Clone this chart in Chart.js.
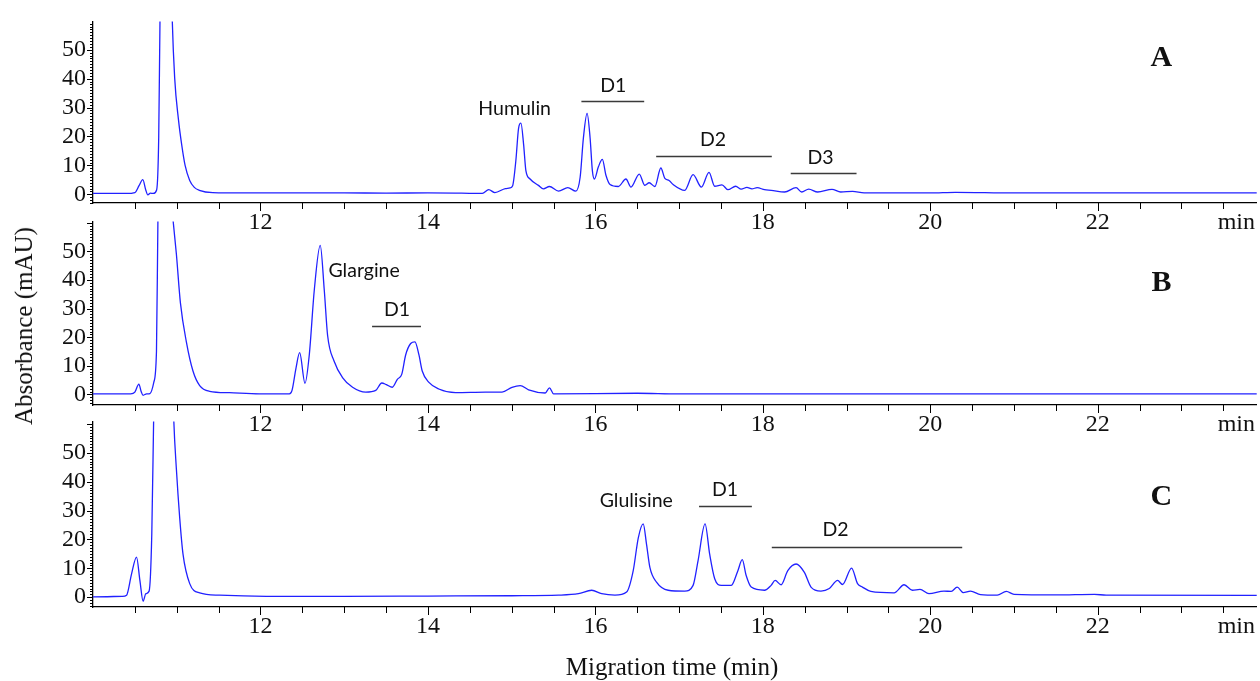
<!DOCTYPE html>
<html>
<head>
<meta charset="utf-8">
<script src="https://cdn.jsdelivr.net/npm/chart.js@4.4.1/dist/chart.umd.min.js"></script>
<style>
    body { margin: 0; background: #fff; width: 1260px; height: 681px; overflow: hidden; position: relative; font-family: 'Liberation Serif', serif; color: #111; }
    canvas { position: absolute; left: 0; }
    .ytitle { position: absolute; left: 24px; top: 326px; transform: translate(-50%, -50%) rotate(-90deg); font-size: 25px; white-space: nowrap; }
    .xtitle { position: absolute; left: 672px; top: 667px; transform: translate(-50%, -50%); font-size: 25px; white-space: nowrap; }
</style>
</head>
<body>
<canvas id="panelA" width="1260" height="240" style="top:0px"></canvas>
<canvas id="panelB" width="1260" height="240" style="top:200px"></canvas>
<canvas id="panelC" width="1260" height="281" style="top:400px"></canvas>
<div class="ytitle">Absorbance (mAU)</div>
<div class="xtitle">Migration time (min)</div>
<script>
// tick labels
const xTickLabels = [12, 14, 16, 18, 20, 22];
const yTickLabels = [0, 10, 20, 30, 40, 50];

// A: Humulin
const timesA = [10.00, 10.40, 10.50, 10.55, 10.595, 10.63, 10.655, 10.685, 10.72, 10.76, 10.785, 10.80, 10.83, 10.87, 10.92, 10.945, 10.976, 11.02, 11.06, 11.10, 11.155, 11.21, 11.27, 11.43, 11.8, 12.0, 13.0, 13.5, 14.0, 14.4,
    14.65, 14.726, 14.80, 14.925, 14.98, 15.012, 15.05, 15.083, 15.111, 15.143, 15.17, 15.22, 15.32, 15.38, 15.451, 15.56, 15.671, 15.766, 15.818, 15.857, 15.901, 15.937, 15.964, 15.988,
    16.036, 16.083, 16.127, 16.175, 16.274, 16.365, 16.425, 16.524, 16.591, 16.643, 16.71, 16.782, 16.83, 16.88, 16.929, 17.067, 17.167, 17.266, 17.357, 17.425, 17.512, 17.583,
    17.675, 17.742, 17.81, 17.87, 17.932, 18.02, 18.10, 18.26, 18.397, 18.464, 18.548, 18.655, 18.826, 18.93, 19.072, 19.21, 20.0, 20.3, 21.0, 23.9];
const absA = [0.3, 0.3, 0.6, 3.0, 5.1, 1.5, -0.2, 0.4, 0.3, 1.5, 20, 60, 110, 130, 100, 62, 40, 26, 17, 10, 4.8, 2.4, 1.4, 0.6, 0.5, 0.5, 0.5, 0.4, 0.5, 0.4,
    0.3, 1.6, 0.6, 2.0, 2.2, 3.0, 11.6, 22.9, 24.6, 17.2, 8.2, 5.3, 3.1, 1.9, 2.7, 1.1, 2.3, 1.1, 5.9, 19.5, 28.0, 19.5, 8.2, 5.3,
    9.5, 12.1, 6.5, 3.4, 2.7, 5.3, 2.5, 7.0, 3.1, 4.0, 2.7, 9.1, 5.5, 4.8, 3.4, 1.4, 6.8, 2.5, 7.6, 2.8, 3.3, 1.6,
    2.8, 1.8, 2.4, 1.9, 2.3, 1.6, 1.4, 0.8, 2.3, 0.8, 1.8, 0.8, 1.7, 0.8, 1.0, 0.5, 0.5, 0.7, 0.5, 0.5];

// B: Glargine
const timesB = [10.00, 10.45, 10.50, 10.548, 10.575, 10.598, 10.64, 10.68, 10.726, 10.758, 10.775, 10.80, 10.85, 10.90, 10.93, 10.956, 10.996, 11.044, 11.115, 11.194, 11.274, 11.393, 11.63, 11.99,
    12.345, 12.377, 12.425, 12.468, 12.532, 12.583, 12.643, 12.714, 12.762, 12.802, 12.88, 12.98, 13.10, 13.258, 13.377, 13.449, 13.504, 13.575, 13.635, 13.687, 13.734, 13.794, 13.845,
    13.893, 13.932, 14.012, 14.13, 14.33, 14.687, 14.885, 15.004, 15.103, 15.202, 15.401, 15.452, 15.50, 16.5, 17.0, 23.9];
const absB = [0.2, 0.2, 0.8, 3.6, 1.0, -0.3, 0.2, 0.3, 4.2, 15, 60, 110, 120, 85, 70, 61, 49, 32, 18.4, 8.2, 3.1, 1.1, 0.6, 0.2,
    0.2, 1.4, 9.3, 14.6, 3.9, 13.8, 36.5, 52.1, 36.5, 20.6, 11.6, 5.9, 2.5, 0.8, 1.4, 4.0, 3.4, 2.5, 5.3, 7.0, 13.8, 17.8, 18.4,
    13.8, 8.2, 4.2, 1.9, 0.6, 0.8, 0.8, 2.5, 3.1, 1.6, 0.5, 2.3, 0.2, 0.4, 0.2, 0.2];

// C: Glulisine
const timesC = [10.00, 10.35, 10.401, 10.46, 10.52, 10.56, 10.599, 10.631, 10.67, 10.702, 10.726, 10.76, 10.86, 10.93, 10.964, 10.996, 11.036, 11.075, 11.155, 11.274, 11.51, 12.07, 13.0, 14.0, 15.0,
    15.56, 15.798, 15.956, 16.075, 16.234, 16.373, 16.452, 16.512, 16.571, 16.611, 16.651, 16.73, 16.869, 17.067, 17.167, 17.226, 17.31, 17.365, 17.425, 17.504, 17.623, 17.702, 17.754,
    17.801, 17.861, 18.02, 18.099, 18.147, 18.218, 18.298, 18.397, 18.496, 18.575, 18.694, 18.794, 18.893, 18.952, 19.06, 19.131, 19.19, 19.29, 19.567, 19.687, 19.786, 19.877, 19.984,
    20.163, 20.25, 20.321, 20.393, 20.48, 20.6, 20.8, 20.908, 21.0, 21.5, 21.96, 22.1, 23.9];
const absC = [0.1, 0.3, 0.7, 8.0, 13.9, 5.8, -1.4, 1.2, 2.1, 21.7, 65, 120, 150, 100, 62, 44.3, 27.3, 14.9, 4.7, 1.5, 0.7, 0.3, 0.3, 0.4, 0.5,
    0.7, 1.2, 2.4, 1.2, 0.7, 1.8, 9.2, 20.5, 25.4, 18.3, 10.3, 5.2, 2.4, 2.1, 4.1, 12.6, 25.4, 14.9, 6.4, 4.1, 4.1, 9.2, 13.0,
    7.5, 3.5, 2.4, 4.1, 5.8, 4.3, 9.2, 11.5, 8.6, 3.5, 2.1, 3.0, 5.8, 4.4, 10.1, 4.7, 3.5, 2.0, 1.5, 4.3, 2.4, 2.7, 1.2,
    2.1, 2.0, 3.5, 1.6, 2.1, 0.9, 0.7, 2.0, 1.0, 0.8, 1.0, 0.7, 0.6];

// peak labels and bracket bars, in axis units
const labelsA = [{ text: 'Humulin', x: 15.036, y: 29.7 }, { text: 'D1', x: 16.214, y: 37.5 }, { text: 'D2', x: 17.405, y: 18.9 }, { text: 'D3', x: 18.69, y: 12.8 }];
const barsA = [{ x0: 15.833, x1: 16.583, y: 32.4 }, { x0: 16.726, x1: 18.107, y: 13.2 }, { x0: 18.333, x1: 19.119, y: 7.4 }];
const labelsB = [{ text: 'Glargine', x: 13.238, y: 43.2 }, { text: 'D1', x: 13.631, y: 29.6 }];
const barsB = [{ x0: 13.333, x1: 13.917, y: 23.8 }];
const labelsC = [{ text: 'Glulisine', x: 16.488, y: 33.3 }, { text: 'D1', x: 17.548, y: 37.1 }, { text: 'D2', x: 18.869, y: 23.5 }];
const barsC = [{ x0: 17.238, x1: 17.869, y: 31.6 }, { x0: 18.107, x1: 20.381, y: 17.3 }];

const X_MIN = 10, X_MAX = 23.9, MIN_LABEL_AT = 23.655;

const serif = "'Liberation Serif', 'Times New Roman', serif";

const tickMarks = {
    id: 'tickMarks',
    afterDraw(chart) {
        const { ctx } = chart;
        const x = chart.scales.x, y = chart.scales.y;
        ctx.save();
        ctx.strokeStyle = '#000';
        ctx.lineWidth = 1;
        ctx.beginPath();
        for (let v = Math.ceil(y.min); v <= y.max; v++) {
            const py = Math.round(y.getPixelForValue(v)) + 0.5;
            const len = v % 10 === 0 ? 6 : 3;
            ctx.moveTo(x.left - len, py);
            ctx.lineTo(x.left, py);
        }
        for (let t = X_MIN + 0.5; t <= X_MAX; t += 0.5) {
            const px = Math.round(x.getPixelForValue(t)) + 0.5;
            const len = t % 2 === 0 ? 8 : 6;
            ctx.moveTo(px, y.bottom);
            ctx.lineTo(px, y.bottom + len);
        }
        ctx.stroke();
        ctx.restore();
    }
};

const peakNotes = {
    id: 'peakNotes',
    afterDatasetsDraw(chart, args, opts) {
        const { ctx } = chart;
        const x = chart.scales.x, y = chart.scales.y;
        ctx.save();
        ctx.strokeStyle = '#3a3a3a';
        ctx.lineWidth = 1.6;
        opts.bars.forEach(b => {
            const py = Math.round(y.getPixelForValue(b.y)) + 0.5;
            ctx.beginPath();
            ctx.moveTo(x.getPixelForValue(b.x0), py);
            ctx.lineTo(x.getPixelForValue(b.x1), py);
            ctx.stroke();
        });
        ctx.fillStyle = '#111';
        ctx.font = "19.5px Lato, 'Open Sans', sans-serif";
        ctx.textAlign = 'center';
        ctx.textBaseline = 'middle';
        opts.labels.forEach(l => ctx.fillText(l.text, x.getPixelForValue(l.x), y.getPixelForValue(l.y)));
        ctx.font = 'bold 30px ' + serif;
        ctx.fillText(opts.letter, x.getPixelForValue(22.76), y.getPixelForValue(opts.letterY));
        ctx.restore();
    }
};

function makePanel(id, times, values, cfg) {
    const points = times.map((t, i) => ({ x: t, y: values[i] }));
    return new Chart(document.getElementById(id), {
        type: 'line',
        data: {
            datasets: [{
                data: points,
                borderColor: '#2121ff',
                borderWidth: 1.3,
                pointRadius: 0,
                cubicInterpolationMode: 'monotone',
                fill: false,
            }]
        },
        options: {
            responsive: false,
            animation: false,
            events: [],
            layout: { padding: { top: cfg.padTop, left: 0, right: 0, bottom: 0 } },
            plugins: {
                legend: { display: false },
                tooltip: { enabled: false },
                peakNotes: { labels: cfg.labels, bars: cfg.bars, letter: cfg.letter, letterY: cfg.letterY },
            },
            scales: {
                x: {
                    type: 'linear',
                    min: X_MIN,
                    max: X_MAX,
                    afterFit: s => { s.height = cfg.xHeight; },
                    afterBuildTicks: s => { s.ticks = xTickLabels.concat([MIN_LABEL_AT]).map(v => ({ value: v })); },
                    grid: { display: false, drawTicks: false },
                    border: { display: true, color: '#000', width: 1.3 },
                    ticks: {
                        padding: 5,
                        color: '#111',
                        maxRotation: 0,
                        autoSkip: false,
                        font: { family: serif, size: 24 },
                        callback: v => v === MIN_LABEL_AT ? 'min' : String(v),
                    }
                },
                y: {
                    min: cfg.yMin,
                    max: cfg.yMax,
                    afterFit: s => { s.width = 93; },
                    afterBuildTicks: s => { s.ticks = yTickLabels.map(v => ({ value: v })); },
                    grid: { display: false, drawTicks: false },
                    border: { display: true, color: '#000', width: 1.3 },
                    ticks: {
                        padding: 7,
                        color: '#111',
                        font: { family: serif, size: 24 },
                    }
                }
            }
        },
        plugins: [tickMarks, peakNotes]
    });
}

makePanel('panelA', timesA, absA, { padTop: 17, xHeight: 37, yMin: -3.0, yMax: 59.8, labels: labelsA, bars: barsA, letter: 'A', letterY: 47 });
makePanel('panelB', timesB, absB, { padTop: 16, xHeight: 35, yMin: -3.7, yMax: 60.5, labels: labelsB, bars: barsB, letter: 'B', letterY: 38.8 });
makePanel('panelC', timesC, absC, { padTop: 18, xHeight: 74, yMin: -3.4, yMax: 60.9, labels: labelsC, bars: barsC, letter: 'C', letterY: 34.7 });
</script>
</body>
</html>
